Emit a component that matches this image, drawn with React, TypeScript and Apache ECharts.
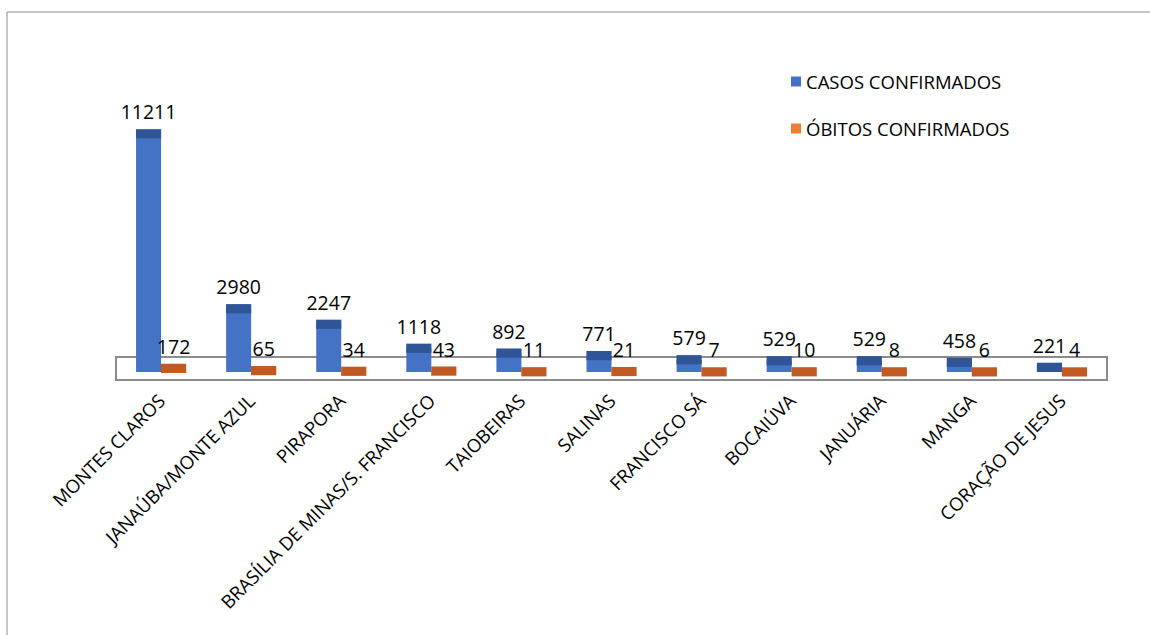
import React, { useEffect, useRef } from "react";
import * as echarts from "echarts";

const categories = [
  "MONTES CLAROS",
  "JANAÚBA/MONTE AZUL",
  "PIRAPORA",
  "BRASÍLIA DE MINAS/S. FRANCISCO",
  "TAIOBEIRAS",
  "SALINAS",
  "FRANCISCO SÁ",
  "BOCAIÚVA",
  "JANUÁRIA",
  "MANGA",
  "CORAÇÃO DE JESUS",
];
const casosConfirmados = [11211, 2980, 2247, 1118, 892, 771, 579, 529, 529, 458, 221];
const obitosConfirmados = [172, 65, 34, 43, 11, 21, 7, 10, 8, 6, 4];
const seriesNames = ["CASOS CONFIRMADOS", "ÓBITOS CONFIRMADOS"];

const BLUE = "#4472C4";
const BLUE_TOP = "#2F5597";
const ORANGE = "#ED7D31";
const ORANGE_TOP = "#C05A22";

export default function App() {
  const ref = useRef<HTMLDivElement>(null);

  useEffect(() => {
    document.body.style.margin = "0";
    if (!ref.current) return;
    const chart = echarts.init(ref.current, undefined, { renderer: "svg" });
    const labelStyle = {
      show: true,
      position: "top" as const,
      distance: 12,
      color: "#000",
      fontFamily: "Open Sans",
      fontSize: 19.5,
    };
    const capBase = {
      type: "pictorialBar",
      symbol: "rect",
      symbolSize: [25, 9],
      symbolPosition: "end",
      symbolOffset: [0, "-50%"],
      barWidth: 25,
      barGap: "0%",
      z: 4,
      silent: true,
    };
    chart.setOption({
      animation: false,
      backgroundColor: "#fff",
      grid: { left: 116, right: 43, top: 117, bottom: 263 },
      legend: {
        orient: "vertical",
        left: 786,
        top: 67,
        itemWidth: 10,
        itemHeight: 10,
        itemGap: 28,
        icon: "rect",
        data: seriesNames,
        textStyle: { fontFamily: "Open Sans", fontSize: 18.5, color: "#000" },
      },
      xAxis: {
        type: "category",
        data: categories,
        axisLine: { show: false },
        axisTick: { show: false },
        axisLabel: {
          interval: 0,
          rotate: 45,
          margin: 25,
          color: "#000",
          fontFamily: "Open Sans",
          fontSize: 18.5,
        },
      },
      yAxis: {
        type: "value",
        min: 0,
        max: 12000,
        show: false,
        splitLine: { show: false },
      },
      graphic: [
        {
          type: "rect",
          z: -10,
          shape: { x: 7, y: 12, width: 1300, height: 800 },
          style: { fill: "none", stroke: "#8c8c8c", lineWidth: 1 },
          silent: true,
        },
        {
          type: "rect",
          z: -5,
          shape: { x: 116, y: 357, width: 991, height: 23 },
          style: { fill: "none", stroke: "#8c8c8c", lineWidth: 2 },
          silent: true,
        },
      ],
      series: [
        {
          name: seriesNames[0],
          type: "bar",
          data: casosConfirmados,
          barWidth: 25,
          barGap: "0%",
          itemStyle: { color: BLUE },
          label: labelStyle,
          z: 3,
        },
        {
          name: seriesNames[1],
          type: "bar",
          data: obitosConfirmados,
          barWidth: 25,
          barGap: "0%",
          itemStyle: { color: ORANGE },
          label: labelStyle,
          z: 3,
        },
        { ...capBase, name: "capCasos", data: casosConfirmados, itemStyle: { color: BLUE_TOP } },
        { ...capBase, name: "capObitos", data: obitosConfirmados, itemStyle: { color: ORANGE_TOP } },
      ],
    });
    return () => chart.dispose();
  }, []);

  return <div ref={ref} style={{ width: 1150, height: 635 }} />;
}
